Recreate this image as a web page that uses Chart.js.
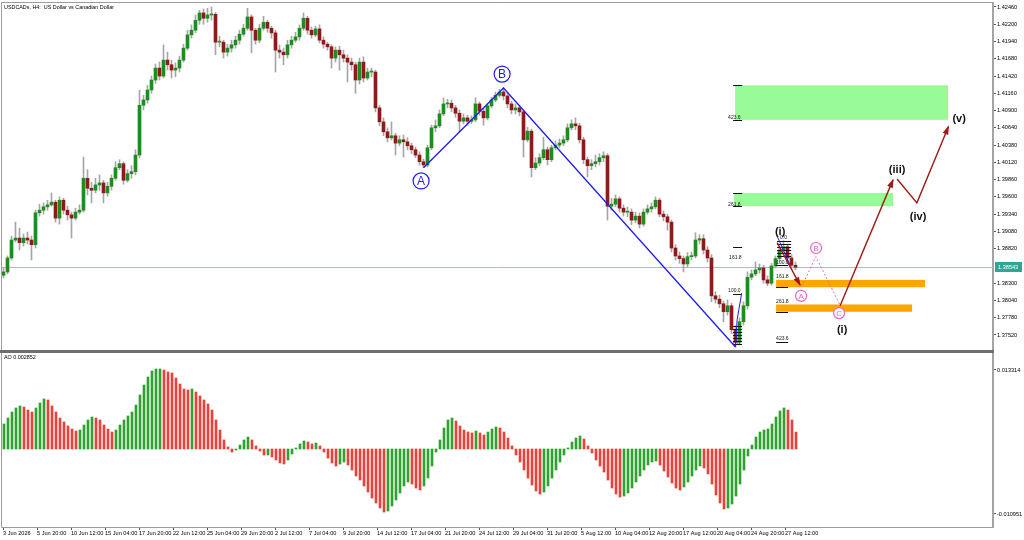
<!DOCTYPE html>
<html>
<head>
<meta charset="utf-8">
<title>USDCAD H4</title>
<script src="https://cdn.jsdelivr.net/npm/chart.js@4.4.1/dist/chart.umd.min.js"></script>
<style>
  html, body { margin: 0; padding: 0; background: #fff; }
  #wrap { position: relative; width: 1024px; height: 540px; overflow: hidden; }
  #priceChart { position: absolute; left: 0; top: 0; }
  #aoChart { position: absolute; left: 0; top: 352px; }
</style>
</head>
<body>
<div id="wrap">
  <canvas id="priceChart" width="1024" height="352"></canvas>
  <canvas id="aoChart" width="1024" height="188"></canvas>
</div>
<script>
// values, one bar here = two H4 candles
const timeLabels = ['3 Jun 2026','5 Jun 20:00','10 Jun 12:00','15 Jun 04:00','17 Jun 20:00','22 Jun 12:00','25 Jun 04:00','29 Jun 20:00','2 Jul 12:00','7 Jul 04:00','9 Jul 20:00','14 Jul 12:00','17 Jul 04:00','21 Jul 20:00','24 Jul 12:00','29 Jul 04:00','31 Jul 20:00','5 Aug 12:00','10 Aug 04:00','12 Aug 20:00','17 Aug 12:00','20 Aug 04:00','24 Aug 20:00','27 Aug 12:00'];
const priceTicks = [1.42460,1.42200,1.41940,1.41680,1.41420,1.41160,1.40900,1.40640,1.40380,1.40120,1.39860,1.39600,1.39340,1.39080,1.38820,1.38300,1.38040,1.37780,1.37520];
const firstOpen = 1.3842;
const closes = [
  1.3847,1.3868,1.3895,1.3898,1.3891,1.3898,1.3895,1.3888,1.3936,1.3940,
  1.3945,1.3948,1.3952,1.3928,1.3955,1.3940,1.3933,1.3928,1.3937,1.3940,
  1.3988,1.3973,1.3970,1.3978,1.3981,1.3966,1.3976,1.3988,1.4004,1.4010,
  1.3985,1.3995,1.3998,1.4023,1.4098,1.4106,1.4121,1.4136,1.4154,1.4142,
  1.4166,1.4159,1.4151,1.4154,1.4166,1.4184,1.4204,1.4211,1.4226,1.4237,
  1.4229,1.4234,1.4235,1.4193,1.4193,1.4178,1.4184,1.4189,1.4196,1.4205,
  1.4214,1.4231,1.4211,1.4196,1.4214,1.4223,1.4214,1.4207,1.4181,1.4178,
  1.4174,1.4189,1.4196,1.4201,1.4214,1.4229,1.4211,1.4204,1.4213,1.4196,
  1.4190,1.4186,1.4169,1.4181,1.4174,1.4169,1.4163,1.4159,1.4136,1.4163,
  1.4139,1.4148,1.4148,1.4094,1.4073,1.4058,1.4049,1.4052,1.4041,1.4046,
  1.4043,1.4037,1.4031,1.4023,1.4013,1.4008,1.4034,1.4064,1.4067,1.4085,
  1.4100,1.4101,1.4094,1.4086,1.4074,1.4079,1.4074,1.4076,1.4100,1.4089,
  1.4079,1.4097,1.4106,1.4113,1.4118,1.4112,1.4100,1.4091,1.4094,1.4088,
  1.4046,1.4059,1.4004,1.4011,1.4019,1.4031,1.4016,1.4034,1.4038,1.4041,
  1.4046,1.4064,1.4070,1.4067,1.4046,1.4016,1.4007,1.4010,1.4013,1.4019,
  1.4022,1.3946,1.3949,1.3957,1.3943,1.3937,1.3937,1.3925,1.3931,1.3919,
  1.3937,1.3942,1.3945,1.3955,1.3934,1.3930,1.3922,1.3883,1.3871,1.3867,
  1.3859,1.3870,1.3871,1.3895,1.3897,1.3880,1.3868,1.3811,1.3806,1.3799,
  1.3787,1.3796,1.3760,1.3741,1.3772,1.3796,1.3839,1.3844,1.3850,1.3853,
  1.3835,1.3830,1.3856,1.3867,1.3880,1.3885,1.3868,1.3857,1.3854];
const highs = [
  1.3853,1.3871,1.3901,1.3922,1.3913,1.3904,1.3907,1.3901,1.3940,1.3949,
  1.3951,1.3955,1.3966,1.3955,1.3960,1.3958,1.3946,1.3937,1.3943,1.3948,
  1.4020,1.4001,1.3982,1.3988,1.3993,1.3985,1.3982,1.3993,1.4013,1.4016,
  1.4013,1.4001,1.4007,1.4031,1.4121,1.4113,1.4128,1.4142,1.4160,1.4163,
  1.4189,1.4178,1.4166,1.4162,1.4172,1.4190,1.4211,1.4219,1.4234,1.4241,
  1.4243,1.4244,1.4246,1.4238,1.4202,1.4196,1.4190,1.4196,1.4202,1.4211,
  1.4220,1.4244,1.4234,1.4214,1.4220,1.4232,1.4226,1.4217,1.4211,1.4189,
  1.4184,1.4196,1.4202,1.4208,1.4219,1.4237,1.4232,1.4216,1.4217,1.4219,
  1.4201,1.4193,1.4189,1.4186,1.4187,1.4181,1.4174,1.4169,1.4163,1.4169,
  1.4171,1.4154,1.4154,1.4151,1.4098,1.4079,1.4064,1.4073,1.4056,1.4052,
  1.4053,1.4049,1.4041,1.4035,1.4028,1.4017,1.4038,1.4068,1.4076,1.4091,
  1.4109,1.4107,1.4106,1.4098,1.4091,1.4085,1.4083,1.4082,1.4109,1.4103,
  1.4094,1.4101,1.4110,1.4118,1.4122,1.4124,1.4116,1.4104,1.4100,1.4098,
  1.4091,1.4065,1.4062,1.4019,1.4025,1.4050,1.4035,1.4038,1.4044,1.4047,
  1.4052,1.4070,1.4076,1.4079,1.4071,1.4050,1.4020,1.4016,1.4023,1.4025,
  1.4028,1.4025,1.3958,1.3963,1.3960,1.3948,1.3945,1.3942,1.3937,1.3936,
  1.3942,1.3948,1.3951,1.3960,1.3958,1.3939,1.3934,1.3925,1.3888,1.3877,
  1.3871,1.3876,1.3877,1.3906,1.3903,1.3903,1.3885,1.3873,1.3817,1.3812,
  1.3803,1.3805,1.3800,1.3766,1.3778,1.3802,1.3847,1.3850,1.3862,1.3859,
  1.3857,1.3841,1.3860,1.3871,1.3886,1.3894,1.3889,1.3873,1.3862];
const lows = [
  1.3838,1.3844,1.3865,1.3892,1.3880,1.3886,1.3889,1.3865,1.3883,1.3931,
  1.3934,1.3940,1.3946,1.3922,1.3919,1.3934,1.3925,1.3898,1.3925,1.3934,
  1.3937,1.3963,1.3951,1.3966,1.3970,1.3951,1.3961,1.3970,1.3985,1.4001,
  1.3979,1.3982,1.3988,1.3993,1.4019,1.4091,1.4101,1.4116,1.4131,1.4136,
  1.4139,1.4151,1.4139,1.4141,1.4148,1.4163,1.4181,1.4199,1.4207,1.4220,
  1.4220,1.4223,1.4226,1.4174,1.4186,1.4169,1.4172,1.4178,1.4184,1.4190,
  1.4202,1.4211,1.4177,1.4190,1.4192,1.4211,1.4208,1.4199,1.4148,1.4169,
  1.4159,1.4169,1.4184,1.4193,1.4196,1.4211,1.4205,1.4199,1.4201,1.4192,
  1.4184,1.4181,1.4154,1.4163,1.4151,1.4163,1.4133,1.4151,1.4116,1.4130,
  1.4133,1.4136,1.4141,1.4088,1.4067,1.4052,1.4043,1.4046,1.4023,1.4037,
  1.4020,1.4031,1.4025,1.4019,1.4008,1.4004,1.4005,1.4031,1.4058,1.4064,
  1.4082,1.4094,1.4088,1.4080,1.4058,1.4070,1.4068,1.4070,1.4073,1.4083,
  1.4068,1.4076,1.4094,1.4103,1.4110,1.4106,1.4094,1.4085,1.4085,1.4082,
  1.4020,1.4043,1.3990,1.4001,1.4007,1.4016,1.4008,1.4013,1.4031,1.4034,
  1.4037,1.4043,1.4061,1.4061,1.4041,1.4010,1.3990,1.4001,1.4005,1.4008,
  1.4013,1.3925,1.3940,1.3945,1.3937,1.3931,1.3930,1.3918,1.3921,1.3913,
  1.3916,1.3934,1.3937,1.3942,1.3930,1.3924,1.3910,1.3877,1.3865,1.3860,
  1.3847,1.3854,1.3865,1.3868,1.3889,1.3874,1.3862,1.3802,1.3800,1.3793,
  1.3772,1.3782,1.3754,1.3734,1.3737,1.3767,1.3791,1.3835,1.3841,1.3845,
  1.3830,1.3826,1.3827,1.3853,1.3862,1.3876,1.3863,1.3853,1.3850];
const aoValues = [
  0.00421,0.00522,0.00623,0.00691,0.00725,0.00708,0.00657,0.00623,0.00691,0.00775,
  0.00843,0.00826,0.00725,0.00623,0.00522,0.00455,0.00388,0.00337,0.00303,0.00320,
  0.00404,0.00489,0.00539,0.00522,0.00489,0.00404,0.00337,0.00286,0.00320,0.00404,
  0.00489,0.00556,0.00623,0.00741,0.00910,0.01078,0.01213,0.01314,0.01348,0.01348,
  0.01331,0.01297,0.01281,0.01196,0.01095,0.01011,0.00994,0.01011,0.00960,0.00893,
  0.00826,0.00758,0.00657,0.00489,0.00320,0.00152,0.00034,-0.00051,-0.00017,0.00067,
  0.00152,0.00202,0.00152,0.00051,-0.00034,-0.00101,-0.00101,-0.00135,-0.00185,-0.00236,
  -0.00253,-0.00185,-0.00084,0.00017,0.00084,0.00135,0.00118,0.00084,0.00101,0.00051,
  -0.00051,-0.00152,-0.00236,-0.00286,-0.00253,-0.00219,-0.00270,-0.00354,-0.00455,-0.00522,
  -0.00623,-0.00725,-0.00826,-0.00910,-0.00994,-0.01062,-0.01045,-0.00960,-0.00859,-0.00741,
  -0.00623,-0.00556,-0.00590,-0.00657,-0.00691,-0.00623,-0.00489,-0.00286,-0.00051,0.00152,
  0.00354,0.00489,0.00522,0.00472,0.00388,0.00320,0.00286,0.00270,0.00303,0.00270,
  0.00236,0.00286,0.00337,0.00371,0.00354,0.00286,0.00185,0.00051,-0.00101,-0.00219,
  -0.00354,-0.00489,-0.00607,-0.00708,-0.00758,-0.00725,-0.00623,-0.00489,-0.00354,-0.00219,
  -0.00101,0.00017,0.00118,0.00185,0.00219,0.00169,0.00051,-0.00067,-0.00185,-0.00286,
  -0.00388,-0.00522,-0.00657,-0.00758,-0.00809,-0.00792,-0.00741,-0.00657,-0.00556,-0.00455,
  -0.00354,-0.00270,-0.00219,-0.00202,-0.00270,-0.00371,-0.00472,-0.00573,-0.00657,-0.00691,
  -0.00640,-0.00556,-0.00455,-0.00354,-0.00286,-0.00320,-0.00421,-0.00590,-0.00775,-0.00910,
  -0.01011,-0.00994,-0.00927,-0.00792,-0.00590,-0.00354,-0.00118,0.00067,0.00202,0.00286,
  0.00320,0.00337,0.00421,0.00539,0.00640,0.00691,0.00657,0.00489,0.00285];
const lastPrice = 1.38543;
const aoLast = 0.002852;
const aoTicks = [0.013314, -0.010951];

// wave markup: x in H4 bar units, y in price
const abcPath = [[210.5, 1.4004], [250.5, 1.4124], [366.5, 1.3734]];
const abcCircles = [['A', 209.3, 1.3984], ['B', 249.8, 1.4145]];
const fibAnchors = [[[366.5, 1.3734], [367.3, 1.3775], [369.6, 1.3815]], [[387.3, 1.3901], [393.8, 1.3857]]];
const greenZones = [[366.3, 472.8, 1.4128, 1.4076], [365.8, 445.3, 1.3966, 1.3946]];
const orangeZones = [[386.8, 461.3, 1.3835, 1.3824], [386.8, 454.8, 1.3798, 1.3787]];
const fibLines = [
  [365.3, 369.8, 1.4128], [365.3, 369.8, 1.4076], [365.3, 369.8, 1.3966], [365.3, 369.8, 1.3946],
  [365.3, 369.8, 1.3885], [365.3, 369.8, 1.3814], [365.3, 369.8, 1.3766], [365.3, 369.8, 1.3761],
  [365.3, 369.8, 1.3757], [365.3, 369.8, 1.3752], [365.3, 369.8, 1.3748], [365.3, 369.8, 1.3743],
  [365.3, 369.8, 1.3739],
  [386.8, 392.8, 1.3857], [386.8, 392.8, 1.3824], [386.8, 392.8, 1.3787], [386.8, 392.8, 1.3741],
  [387.3, 394.3, 1.3894], [387.3, 394.3, 1.3889], [387.3, 394.3, 1.3885], [387.3, 394.3, 1.3880],
  [387.3, 394.3, 1.3876], [387.3, 394.3, 1.3871]];
const fibTexts = [['423.6', 362.8, 1.4080], ['261.8', 362.8, 1.3949], ['161.8', 363.3, 1.3868], ['100.0', 362.8, 1.3819],
  ['0.0', 365.3, 1.3739], ['0.0', 388.8, 1.3898], ['100.0', 386.8, 1.3861], ['161.8', 386.8, 1.3840],
  ['261.8', 386.8, 1.3802], ['423.6', 386.8, 1.3746]];
const forecastPaths = [
  [[387.3, 1.3891], [398.8, 1.3827]],
  [[418.8, 1.3796], [445.3, 1.3986]],
  [[447.3, 1.3987], [457.2, 1.3951], [473.0, 1.4066]]];
const abcForecast = [[399.65, 1.3825], [406.65, 1.3870], [418.8, 1.3797]];
const abcSmall = [['A', 399.3, 1.3811], ['B', 406.8, 1.3883], ['C', 418.3, 1.3785]];
const waveLabels = [['(i)', 388.8, 1.3907], ['(i)', 419.8, 1.3760], ['(iii)', 447.3, 1.4001], ['(iv)', 457.8, 1.3930], ['(v)', 478.3, 1.4077]];

Chart.defaults.font.family = '"Liberation Sans", Arial, sans-serif';
const axisFont = { size: 5.6 };
const UP = '#1e8c1e', DOWN = '#8c1c1c', WICK = '#a6a6a6';
const AO_UP = '#2ea12e', AO_DOWN = '#e8413a';
const BLUE = '#1d1df2', PINK = '#e066c8', DARKRED = '#a01818';

const opens = closes.map((c, j) => j === 0 ? firstOpen : closes[j - 1]);
const barX = j => 2 * j + 0.5;

function clipArea(ctx, a) {
    ctx.beginPath();
    ctx.rect(a.left, a.top, a.right - a.left, a.bottom - a.top);
    ctx.clip();
}

function drawPath(ctx, x, y, pts, color, width, dash, arrow) {
    ctx.save();
    ctx.strokeStyle = color;
    ctx.lineWidth = width;
    ctx.setLineDash(dash || []);
    ctx.beginPath();
    pts.forEach((p, i) => {
        const px = x.getPixelForValue(p[0]), py = y.getPixelForValue(p[1]);
        if (i) ctx.lineTo(px, py); else ctx.moveTo(px, py);
        });
    ctx.stroke();
    if (arrow) {
        const a = pts[pts.length - 2], b = pts[pts.length - 1];
        const x1 = x.getPixelForValue(a[0]), y1 = y.getPixelForValue(a[1]);
        const x2 = x.getPixelForValue(b[0]), y2 = y.getPixelForValue(b[1]);
        const ang = Math.atan2(y2 - y1, x2 - x1);
        const c = Math.cos(ang), s = Math.sin(ang);
        ctx.setLineDash([]);
        ctx.fillStyle = color;
        ctx.beginPath();
        ctx.moveTo(x2 + c, y2 + s);
        ctx.lineTo(x2 - 8 * c + 3 * s, y2 - 8 * s - 3 * c);
        ctx.lineTo(x2 - 8 * c - 3 * s, y2 - 8 * s + 3 * c);
        ctx.closePath();
        ctx.fill();
        }
    ctx.restore();
}

function drawCircleLabel(ctx, x, y, item, r, color, size) {
    const cx = x.getPixelForValue(item[1]), cy = y.getPixelForValue(item[2]);
    ctx.save();
    ctx.fillStyle = '#fff';
    ctx.strokeStyle = color;
    ctx.lineWidth = 1.2;
    ctx.beginPath();
    ctx.arc(cx, cy, r, 0, Math.PI * 2);
    ctx.fill();
    ctx.stroke();
    ctx.fillStyle = color;
    ctx.font = size + 'px "Liberation Sans", Arial, sans-serif';
    ctx.textAlign = 'center';
    ctx.textBaseline = 'middle';
    ctx.fillText(item[0], cx, cy + 0.5);
    ctx.restore();
}

const waveLayer = {
    id: 'waveLayer',
    beforeDatasetsDraw(chart) {
        const { ctx, chartArea: a, scales: { x, y } } = chart;
        ctx.save();
        clipArea(ctx, a);
        const yp = Math.round(y.getPixelForValue(lastPrice)) + 0.5;
        ctx.strokeStyle = '#86d0c4';
        ctx.lineWidth = 1;
        ctx.beginPath();
        ctx.moveTo(a.left, yp);
        ctx.lineTo(a.right, yp);
        ctx.stroke();
        const zone = (z, color) => {
            const x1 = x.getPixelForValue(z[0]), x2 = x.getPixelForValue(z[1]);
            const y1 = y.getPixelForValue(z[2]), y2 = y.getPixelForValue(z[3]);
            ctx.fillStyle = color;
            ctx.fillRect(x1, y1, x2 - x1, y2 - y1);
            };
        greenZones.forEach(z => zone(z, '#98fb98'));
        orangeZones.forEach(z => zone(z, '#ffa500'));
        ctx.restore();
    },
    afterDatasetsDraw(chart) {
        const { ctx, chartArea: a, scales: { x, y } } = chart;
        ctx.save();
        clipArea(ctx, a);
        // fib levels
        ctx.strokeStyle = '#111';
        ctx.lineWidth = 1;
        fibLines.forEach(f => {
            const py = Math.round(y.getPixelForValue(f[2])) + 0.5;
            ctx.beginPath();
            ctx.moveTo(x.getPixelForValue(f[0]), py);
            ctx.lineTo(x.getPixelForValue(f[1]), py);
            ctx.stroke();
            });
        ctx.fillStyle = '#111';
        ctx.font = '5px "Liberation Sans", Arial, sans-serif';
        ctx.textBaseline = 'middle';
        fibTexts.forEach(t => ctx.fillText(t[0], x.getPixelForValue(t[1]), y.getPixelForValue(t[2])));
        // wave lines
        drawPath(ctx, x, y, abcPath, BLUE, 1.3);
        fibAnchors.forEach(p => drawPath(ctx, x, y, p, BLUE, 1));
        drawPath(ctx, x, y, abcForecast, PINK, 1, [2, 2]);
        forecastPaths.forEach(p => drawPath(ctx, x, y, p, DARKRED, 1.4, null, true));
        abcCircles.forEach(c => drawCircleLabel(ctx, x, y, c, 8, BLUE, 12));
        abcSmall.forEach(c => drawCircleLabel(ctx, x, y, c, 5.5, PINK, 8));
        ctx.fillStyle = '#111';
        ctx.font = 'bold 11px "Liberation Sans", Arial, sans-serif';
        ctx.textAlign = 'center';
        ctx.textBaseline = 'middle';
        waveLabels.forEach(w => ctx.fillText(w[0], x.getPixelForValue(w[1]), y.getPixelForValue(w[2])));
        ctx.restore();
    },
    afterDraw(chart) {
        const { ctx, chartArea: a, scales: { y } } = chart;
        ctx.save();
        ctx.strokeStyle = '#9c9c9c';
        ctx.lineWidth = 1;
        ctx.beginPath();
        ctx.moveTo(a.left - 0.5, a.bottom);
        ctx.lineTo(a.left - 0.5, a.top - 0.5);
        ctx.lineTo(a.right, a.top - 0.5);
        ctx.stroke();
        ctx.fillStyle = '#6e6e6e';
        ctx.fillRect(0, a.bottom, a.right + 1, 2);
        ctx.fillStyle = '#000';
        ctx.font = '5.4px "Liberation Sans", Arial, sans-serif';
        ctx.textBaseline = 'middle';
        ctx.fillText('USDCADs, H4:  US Dollar vs Canadian Dollar', 4, 8);
        // bid label on the price scale
        const yp = Math.round(y.getPixelForValue(lastPrice));
        ctx.fillStyle = '#2fa696';
        ctx.fillRect(a.right + 2, yp - 5, 27, 10);
        ctx.fillStyle = '#fff';
        ctx.font = axisFont.size + 'px "Liberation Sans", Arial, sans-serif';
        ctx.fillText(lastPrice.toFixed(5), a.right + 5, yp + 0.5);
        ctx.restore();
    }
};

const aoLayer = {
    id: 'aoLayer',
    afterDraw(chart) {
        const { ctx, chartArea: a } = chart;
        ctx.save();
        ctx.fillStyle = '#6e6e6e';
        ctx.fillRect(0, 0, a.right + 1, 1);
        ctx.strokeStyle = '#9c9c9c';
        ctx.lineWidth = 1;
        ctx.beginPath();
        ctx.moveTo(a.left - 0.5, a.top);
        ctx.lineTo(a.left - 0.5, a.bottom + 0.5);
        ctx.lineTo(a.right, a.bottom + 0.5);
        ctx.stroke();
        ctx.fillStyle = '#000';
        ctx.font = '5.4px "Liberation Sans", Arial, sans-serif';
        ctx.textBaseline = 'middle';
        ctx.fillText('AO ' + aoLast.toFixed(6), 4, 6);
        ctx.restore();
    }
};

function xAxis(min, show) {
    return {
        type: 'linear', min: min, max: min + 495.5, offset: false, display: show,
        grid: { drawOnChartArea: false, offset: false, tickLength: 3, color: '#555' },
        border: { display: false },
        ticks: {
            autoSkip: false, maxRotation: 0, minRotation: 0, align: 'start', padding: 0,
            color: '#000', font: axisFont,
            callback: v => timeLabels[Math.round(v / 17)]
            },
        afterBuildTicks: s => { s.ticks = timeLabels.map((t, k) => ({ value: 17 * k })); },
        afterFit: s => { s.height = show ? 13 : 0; s.paddingLeft = 0; s.paddingRight = 0; }
        };
}

function yAxis(min, max, tickValues, digits) {
    return {
        position: 'right', min: min, max: max, beginAtZero: false,
        grid: { drawOnChartArea: false, tickLength: 3, color: '#555' },
        border: { display: true, color: '#a4a4a4', width: 2 },
        ticks: { color: '#000', font: axisFont, padding: 1, callback: v => Number(v).toFixed(digits) },
        afterBuildTicks: s => { s.ticks = tickValues.map(v => ({ value: v })); },
        afterFit: s => { s.width = 31; s.paddingTop = 0; s.paddingBottom = 0; }
        };
}

function initializePriceChart() {
    new Chart(document.getElementById('priceChart'), {
        type: 'bar',
        data: {
            datasets: [
                {
                data: opens.map((o, j) => ({ x: barX(j), y: [o, closes[j]] })),
                backgroundColor: closes.map((c, j) => c >= opens[j] ? UP : DOWN),
                barThickness: 3, minBarLength: 1, grouped: false, order: 1
                },
                {
                data: lows.map((l, j) => ({ x: barX(j), y: [l, highs[j]] })),
                backgroundColor: WICK,
                barThickness: 1, grouped: false, order: 2
                }
            ]},
        options: {
            responsive: false, animation: false, devicePixelRatio: 1, events: [],
            layout: { padding: { left: 2, top: 3, right: 0, bottom: 2 } },
            plugins: { legend: { display: false }, tooltip: { enabled: false } },
            scales: {
                x: xAxis(-0.25, false),
                y: yAxis(1.37294, 1.4252, priceTicks, 5)
                }
            },
        plugins: [waveLayer]
        });
}

function initializeAoChart() {
    new Chart(document.getElementById('aoChart'), {
        type: 'bar',
        data: {
            datasets: [{
                data: aoValues.map((v, j) => ({ x: barX(j), y: v })),
                backgroundColor: aoValues.map((v, j) => j > 0 && v < aoValues[j - 1] ? AO_DOWN : AO_UP),
                barThickness: 2, grouped: false
                }]},
        options: {
            responsive: false, animation: false, devicePixelRatio: 1, events: [],
            layout: { padding: { left: 2, top: 1, right: 0, bottom: 0 } },
            plugins: { legend: { display: false }, tooltip: { enabled: false } },
            scales: {
                x: xAxis(-0.5, true),
                y: yAxis(-0.013143, 0.016176, aoTicks, 6)
                }
            },
        plugins: [aoLayer]
        });
}

initializePriceChart();
initializeAoChart();
</script>
</body>
</html>
